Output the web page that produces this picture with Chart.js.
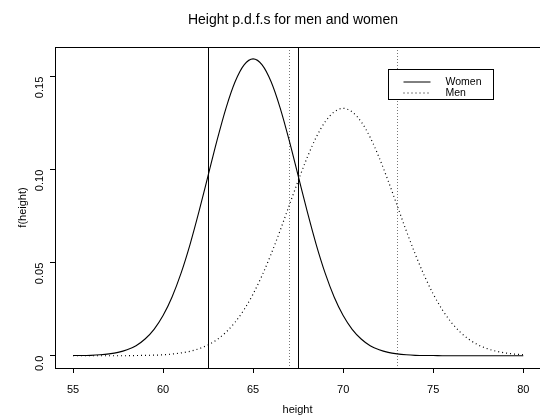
<!DOCTYPE html>
<html>
<head>
<meta charset="utf-8">
<script src="https://cdn.jsdelivr.net/npm/chart.js@4/dist/chart.umd.min.js"></script>
<style>
  html, body { margin: 0; padding: 0; background: #fff; }
  #wrap { width: 540px; height: 417px; }
</style>
</head>
<body>
<div id="wrap"><canvas id="chart" width="540" height="417"></canvas></div>
<script>
// --- data ---
const chartTitle = 'Height p.d.f.s for men and women';
const xTitle = 'height';
const yTitle = 'f(height)';

const heights = [55, 55.5, 56, 56.5, 57, 57.5, 58, 58.5, 59, 59.5,
                 60, 60.5, 61, 61.5, 62, 62.5, 63, 63.5, 64, 64.5,
                 65, 65.5, 66, 66.5, 67, 67.5, 68, 68.5, 69, 69.5,
                 70, 70.5, 71, 71.5, 72, 72.5, 73, 73.5, 74, 74.5,
                 75, 75.5, 76, 76.5, 77, 77.5, 78, 78.5, 79, 79.5, 80];

const womenPdf = [0.0001, 0.0001, 0.0002, 0.0005, 0.0010, 0.0018, 0.0032, 0.0054, 0.0090, 0.0142,
                  0.0216, 0.0316, 0.0444, 0.0599, 0.0777, 0.0968, 0.1159, 0.1333, 0.1473, 0.1564,
                  0.1596, 0.1564, 0.1473, 0.1333, 0.1159, 0.0968, 0.0777, 0.0599, 0.0444, 0.0316,
                  0.0216, 0.0142, 0.0090, 0.0054, 0.0032, 0.0018, 0.0010, 0.0005, 0.0002, 0.0001,
                  0.0001, 0, 0, 0, 0, 0, 0, 0, 0, 0, 0];

const menPdf = [0, 0, 0, 0, 0, 0, 0, 0.0001, 0.0002, 0.0003,
                0.0005, 0.0009, 0.0015, 0.0024, 0.0038, 0.0058, 0.0087, 0.0127, 0.0180, 0.0248,
                0.0332, 0.0432, 0.0547, 0.0673, 0.0807, 0.0940, 0.1065, 0.1174, 0.1258, 0.1311,
                0.1330, 0.1311, 0.1258, 0.1174, 0.1065, 0.0940, 0.0807, 0.0673, 0.0547, 0.0432,
                0.0332, 0.0248, 0.0180, 0.0127, 0.0087, 0.0058, 0.0038, 0.0024, 0.0015, 0.0009,
                0.0005];

// vertical reference lines (mean +/- sd)
const womenMarks = [62.5, 67.5];
const menMarks = [67, 73];

const xTicks = [55, 60, 65, 70, 75, 80];
const yTicks = [0, 0.05, 0.10, 0.15];
const yTickLabels = ['0.0', '0.05', '0.10', '0.15'];

const FONT = '"Liberation Sans", Arial, Helvetica, sans-serif';
const MEN_DASH = [1, 3];

// --- plugin: title, box top, vertical lines, legend ---
const extras = {
    id: 'extras',
    beforeDatasetsDraw(chart) {
        const { ctx, chartArea: a, scales: { x } } = chart;
        ctx.save();
        ctx.lineWidth = 1;
        ctx.strokeStyle = '#000';
        womenMarks.forEach(v => {
            const px = Math.round(x.getPixelForValue(v)) + 0.5;
            ctx.beginPath(); ctx.moveTo(px, a.top); ctx.lineTo(px, a.bottom); ctx.stroke();
        });
        ctx.strokeStyle = '#777';
        ctx.setLineDash([1, 2]);
        menMarks.forEach(v => {
            const px = Math.round(x.getPixelForValue(v)) + 0.5;
            ctx.beginPath(); ctx.moveTo(px, a.top); ctx.lineTo(px, a.bottom); ctx.stroke();
        });
        ctx.restore();
    },
    afterDraw(chart) {
        const { ctx, chartArea: a } = chart;
        ctx.save();
        // top of the plot box
        ctx.strokeStyle = '#000';
        ctx.lineWidth = 1;
        ctx.beginPath();
        ctx.moveTo(a.left, Math.round(a.top) + 0.5);
        ctx.lineTo(a.right, Math.round(a.top) + 0.5);
        ctx.stroke();

        // title
        ctx.fillStyle = '#000';
        ctx.font = '14px ' + FONT;
        ctx.textAlign = 'center';
        ctx.textBaseline = 'middle';
        ctx.fillText(chartTitle, 293, 20);

        // legend
        const bx = 388.5, by = 69.5, bw = 105, bh = 30;
        ctx.fillStyle = '#fff';
        ctx.fillRect(bx, by, bw, bh);
        ctx.strokeStyle = '#000';
        ctx.strokeRect(bx, by, bw, bh);
        ctx.font = '10.5px ' + FONT;
        ctx.textAlign = 'left';
        ctx.fillStyle = '#000';
        chart.data.datasets.forEach((ds, i) => {
            const ly = by + 12.5 + i * 11;
            ctx.strokeStyle = '#000';
            ctx.setLineDash(ds.borderDash || []);
            ctx.beginPath();
            ctx.moveTo(bx + 15, ly);
            ctx.lineTo(bx + 42, ly);
            ctx.stroke();
            ctx.fillText(ds.label, bx + 57, ly + 0.5);
        });
        ctx.restore();
    }
};

new Chart(document.getElementById('chart'), {
    type: 'line',
    data: {
        datasets: [
            {
                label: 'Women',
                data: heights.map((h, i) => ({ x: h, y: womenPdf[i] })),
                borderColor: '#000',
                borderWidth: 1.1,
                pointRadius: 0,
                cubicInterpolationMode: 'monotone',
                fill: false
            },
            {
                label: 'Men',
                data: heights.map((h, i) => ({ x: h, y: menPdf[i] })),
                borderColor: '#000',
                borderWidth: 1.2,
                borderDash: MEN_DASH,
                pointRadius: 0,
                cubicInterpolationMode: 'monotone',
                fill: false
            }
        ]
    },
    options: {
        responsive: false,
        animation: false,
        devicePixelRatio: 1,
        layout: { padding: { top: 47, right: 0, left: 0, bottom: 0 } },
        plugins: { legend: { display: false }, tooltip: { enabled: false }, title: { display: false } },
        scales: {
            x: {
                type: 'linear',
                min: 54,
                max: 80.93,
                afterBuildTicks: s => { s.ticks = xTicks.map(v => ({ value: v })); },
                afterFit: s => { s.height = 49; },
                grid: { display: true, drawOnChartArea: false, drawTicks: true, tickLength: 5, color: '#000' },
                border: { display: true, color: '#000', width: 1 },
                ticks: { color: '#000', font: { family: FONT, size: 11 }, padding: 10, maxRotation: 0, autoSkip: false },
                title: { display: true, text: xTitle, color: '#000', font: { family: FONT, size: 11 }, padding: { top: 0, bottom: 0 } }
            },
            y: {
                type: 'linear',
                min: -0.0066,
                max: 0.166,
                afterBuildTicks: s => { s.ticks = yTicks.map(v => ({ value: v })); },
                afterFit: s => { s.width = 55; },
                grid: { display: true, drawOnChartArea: false, drawTicks: true, tickLength: 5, color: '#000' },
                border: { display: true, color: '#000', width: 1 },
                ticks: {
                    color: '#000', font: { family: FONT, size: 11 }, padding: 10,
                    minRotation: 90, maxRotation: 90, autoSkip: false,
                    callback: (v) => yTickLabels[yTicks.indexOf(v)]
                },
                title: { display: true, text: yTitle, color: '#000', font: { family: FONT, size: 11 }, padding: { top: 16, bottom: 0 } }
            }
        }
    },
    plugins: [extras]
});
</script>
</body>
</html>
